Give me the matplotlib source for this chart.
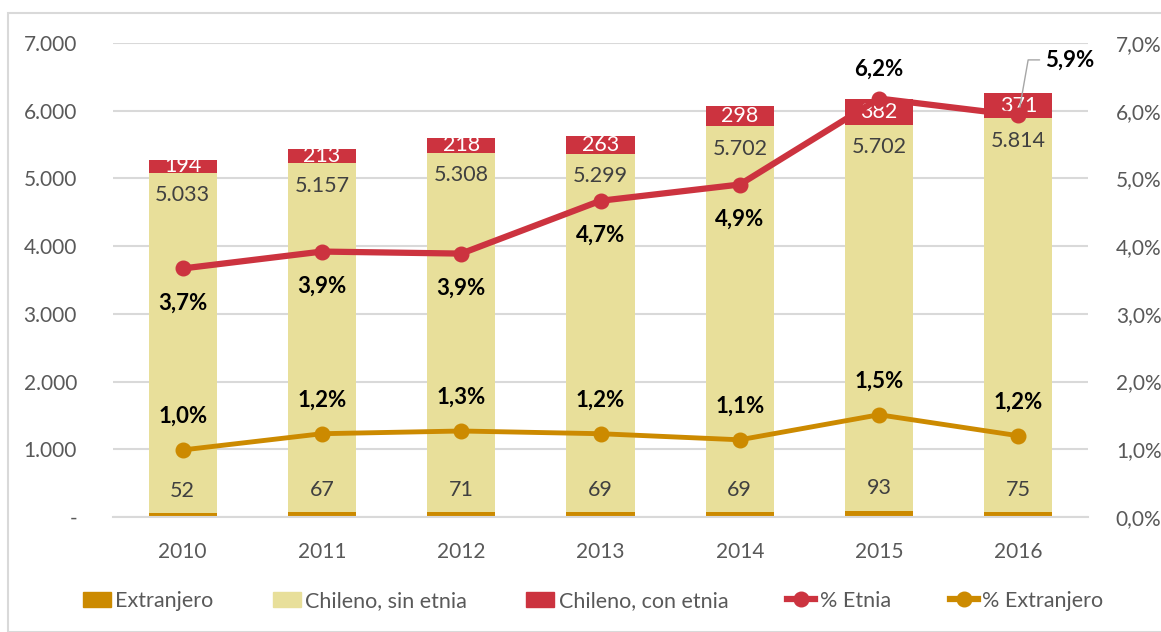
import numpy as np
import matplotlib
matplotlib.use("Agg")
import matplotlib.pyplot as plt
from matplotlib.patches import Rectangle
from matplotlib.lines import Line2D
from matplotlib import ticker

years = ["2010", "2011", "2012", "2013", "2014", "2015", "2016"]
extranjero = [52, 67, 71, 69, 69, 93, 75]
sin_etnia = [5033, 5157, 5308, 5299, 5702, 5702, 5814]
con_etnia = [194, 213, 218, 263, 298, 382, 371]
pct_etnia = [3.67, 3.92, 3.89, 4.67, 4.91, 6.18, 5.93]
pct_extranjero = [0.99, 1.23, 1.27, 1.23, 1.14, 1.51, 1.20]
pct_etnia_labels = ["3,7%", "3,9%", "3,9%", "4,7%", "4,9%", "6,2%", "5,9%"]
pct_extranjero_labels = ["1,0%", "1,2%", "1,3%", "1,2%", "1,1%", "1,5%", "1,2%"]

c_ext = "#CC8A00"
c_sin = "#E8DF9A"
c_con = "#CC333F"
c_text = "#404040"
c_grid = "#D9D9D9"

plt.rcParams["font.family"] = ["Lato", "DejaVu Sans"]
fs = 15

fig = plt.figure(figsize=(11.61, 6.32), dpi=100)
fig.patches.append(Rectangle((8 / 1161, 0), 1.0, 1 - 13 / 632, transform=fig.transFigure,
                             fill=False, edgecolor=c_grid, linewidth=1.5))
ax = fig.add_axes([113 / 1161, 1 - 517 / 632, (1088 - 113) / 1161, (517 - 43) / 632])
ax2 = ax.twinx()

x = np.arange(len(years))
w = 0.49
ext = np.array(extranjero)
sin = np.array(sin_etnia)
con = np.array(con_etnia)

ax.bar(x, ext, w, color=c_ext, zorder=2)
ax.bar(x, sin, w, bottom=ext, color=c_sin, zorder=2)
ax.bar(x, con, w, bottom=ext + sin, color=c_con, zorder=2)

for i in range(len(years)):
    ax.text(x[i], ext[i] + 330, f"{extranjero[i]}", ha="center", va="center",
            fontsize=fs + 0.5, color=c_text, zorder=3)
    ax.text(x[i], ext[i] + sin[i] - 330, f"{sin_etnia[i]:,}".replace(",", "."),
            ha="center", va="center", fontsize=fs + 0.5, color=c_text, zorder=3)
    ax.text(x[i], ext[i] + sin[i] + con[i] / 2, f"{con_etnia[i]}", ha="center",
            va="center", fontsize=fs + 0.5, color="white", zorder=3)

ax.set_xlim(-0.5, len(years) - 0.5)
ax.set_ylim(0, 7000)
ax.set_yticks(np.arange(0, 7001, 1000))
ax.yaxis.set_major_formatter(ticker.FuncFormatter(
    lambda v, p: "-" if v == 0 else f"{int(v):,}".replace(",", ".")))
ax.set_xticks(x)
ax.set_xticklabels(years)
ax.grid(axis="y", color=c_grid, linewidth=1.5, zorder=0)
ax.set_axisbelow(True)
for s in ["top", "right", "left"]:
    ax.spines[s].set_visible(False)
ax.spines["bottom"].set_color(c_grid)
ax.spines["bottom"].set_linewidth(1.5)
ax.tick_params(axis="both", length=0, labelsize=fs, labelcolor="#595959")
ax.tick_params(axis="x", pad=18)
ax.tick_params(axis="y", pad=26)

ax2.plot(x, pct_etnia, color=c_con, linewidth=4.5, marker="o", markersize=10.5, zorder=4)
ax2.plot(x, pct_extranjero, color=c_ext, linewidth=3.5, marker="o", markersize=10.5, zorder=4)
ax2.set_ylim(0, 7)
ax2.set_yticks(np.arange(0, 7.01, 1))
ax2.yaxis.set_major_formatter(ticker.FuncFormatter(lambda v, p: f"{v:.1f}%".replace(".", ",")))
for s in ["top", "right", "left", "bottom"]:
    ax2.spines[s].set_visible(False)
ax2.tick_params(axis="y", length=0, labelsize=fs, labelcolor="#595959", pad=20)

bold = dict(fontsize=fs + 1, fontweight="bold", color="black", ha="center", va="center")
for i in range(len(years)):
    ax2.annotate(pct_extranjero_labels[i], (x[i], pct_extranjero[i]),
                 xytext=(0, 24), textcoords="offset points", **bold)
    if i < 5:
        ax2.annotate(pct_etnia_labels[i], (x[i], pct_etnia[i]),
                     xytext=(0, -25), textcoords="offset points", **bold)
ax2.annotate(pct_etnia_labels[5], (x[5], pct_etnia[5]), xytext=(0, 21),
             textcoords="offset points",
             arrowprops=dict(arrowstyle="-", color="#A6A6A6", lw=1, shrinkA=8, shrinkB=2),
             **bold)
ax2.annotate(pct_etnia_labels[6], (x[6], pct_etnia[6]), xytext=(37, 40),
             textcoords="offset points",
             arrowprops=dict(arrowstyle="-", color="#A6A6A6", lw=1, shrinkA=2, shrinkB=3,
                             connectionstyle="angle,angleA=0,angleB=80,rad=0"),
             **bold)

handles = [
    Rectangle((0, 0), 1, 1, color=c_ext),
    Rectangle((0, 0), 1, 1, color=c_sin),
    Rectangle((0, 0), 1, 1, color=c_con),
    Line2D([], [], color=c_con, linewidth=4.5, marker="o", markersize=10.5),
    Line2D([], [], color=c_ext, linewidth=4.5, marker="o", markersize=10.5),
]
labels = ["Extranjero", "Chileno, sin etnia", "Chileno, con etnia", "% Etnia", "% Extranjero"]
fig.legend(handles, labels, loc="center", bbox_to_anchor=(0.511, 1 - 601 / 632), ncol=5,
           frameon=False, fontsize=fs + 0.5, labelcolor="#595959", handlelength=1.3,
           handletextpad=0.2, columnspacing=2.75)

fig.savefig("out.png", dpi=100)
